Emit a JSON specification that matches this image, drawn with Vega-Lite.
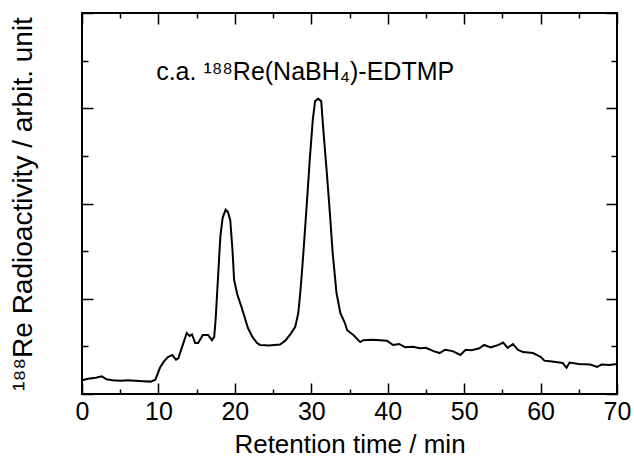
{
  "$schema": "https://vega.github.io/schema/vega-lite/v6.json",
  "width": 535,
  "height": 381,
  "autosize": {"type": "none"},
  "padding": {"left": 82, "top": 13, "right": 17, "bottom": 66},
  "background": "white",
  "config": {
    "view": {"stroke": "black", "strokeWidth": 2},
    "font": "Liberation Sans",
    "axis": {
      "domain": false,
      "grid": false,
      "tickColor": "black",
      "tickWidth": 1.5,
      "labelColor": "black",
      "titleColor": "black",
      "labelFont": "Liberation Sans",
      "titleFont": "Liberation Sans",
      "labelFontSize": 25,
      "titleFontSize": 26,
      "titleFontWeight": "normal"
    }
  },
  "layer": [
    {
      "data": {
        "values": [
          {"t": 0, "v": 0.29}, {"t": 0.8, "v": 0.32}, {"t": 1.8, "v": 0.34}, {"t": 2.6, "v": 0.37},
          {"t": 3.2, "v": 0.31}, {"t": 4.0, "v": 0.29}, {"t": 5.0, "v": 0.28}, {"t": 6.0, "v": 0.29},
          {"t": 7.0, "v": 0.28}, {"t": 8.0, "v": 0.27}, {"t": 9.0, "v": 0.26}, {"t": 9.6, "v": 0.30},
          {"t": 10.2, "v": 0.55}, {"t": 10.7, "v": 0.68}, {"t": 11.2, "v": 0.77}, {"t": 11.8, "v": 0.82},
          {"t": 12.3, "v": 0.72}, {"t": 12.6, "v": 0.75}, {"t": 13.1, "v": 0.99}, {"t": 13.7, "v": 1.28},
          {"t": 14.1, "v": 1.22}, {"t": 14.4, "v": 1.25}, {"t": 14.8, "v": 1.07}, {"t": 15.2, "v": 1.07},
          {"t": 15.8, "v": 1.24}, {"t": 16.5, "v": 1.24}, {"t": 17.0, "v": 1.13}, {"t": 17.3, "v": 1.20},
          {"t": 17.5, "v": 1.60}, {"t": 17.8, "v": 2.46}, {"t": 18.1, "v": 3.30}, {"t": 18.4, "v": 3.70},
          {"t": 18.8, "v": 3.87}, {"t": 19.1, "v": 3.82}, {"t": 19.4, "v": 3.65}, {"t": 19.7, "v": 3.00},
          {"t": 19.9, "v": 2.40}, {"t": 20.3, "v": 2.10}, {"t": 20.9, "v": 1.81}, {"t": 21.3, "v": 1.60},
          {"t": 21.7, "v": 1.39}, {"t": 22.3, "v": 1.20}, {"t": 22.9, "v": 1.07}, {"t": 23.3, "v": 1.03},
          {"t": 24.5, "v": 1.02}, {"t": 25.9, "v": 1.04}, {"t": 26.6, "v": 1.12}, {"t": 27.2, "v": 1.24},
          {"t": 27.9, "v": 1.41}, {"t": 28.3, "v": 1.70}, {"t": 28.6, "v": 2.20}, {"t": 28.9, "v": 2.82},
          {"t": 29.2, "v": 3.50}, {"t": 29.5, "v": 4.20}, {"t": 29.8, "v": 4.92}, {"t": 30.2, "v": 5.76},
          {"t": 30.5, "v": 6.15}, {"t": 30.9, "v": 6.20}, {"t": 31.3, "v": 6.15}, {"t": 31.6, "v": 5.50},
          {"t": 32.0, "v": 4.71}, {"t": 32.4, "v": 3.87}, {"t": 32.8, "v": 2.96}, {"t": 33.3, "v": 2.12},
          {"t": 33.8, "v": 1.70}, {"t": 34.4, "v": 1.49}, {"t": 34.7, "v": 1.34}, {"t": 35.5, "v": 1.24},
          {"t": 36.4, "v": 1.09}, {"t": 36.8, "v": 1.13}, {"t": 38.0, "v": 1.14}, {"t": 39.0, "v": 1.13},
          {"t": 39.9, "v": 1.12}, {"t": 40.7, "v": 1.03}, {"t": 41.5, "v": 1.05}, {"t": 42.3, "v": 0.98},
          {"t": 43.3, "v": 0.99}, {"t": 44.2, "v": 0.96}, {"t": 45.0, "v": 0.97}, {"t": 46.0, "v": 0.90},
          {"t": 46.8, "v": 0.86}, {"t": 47.5, "v": 0.93}, {"t": 48.5, "v": 0.90}, {"t": 49.5, "v": 0.82},
          {"t": 50.2, "v": 0.93}, {"t": 51.0, "v": 0.92}, {"t": 52.0, "v": 0.96}, {"t": 52.6, "v": 1.03},
          {"t": 53.5, "v": 0.98}, {"t": 54.5, "v": 1.03}, {"t": 55.1, "v": 1.08}, {"t": 55.7, "v": 0.97},
          {"t": 56.4, "v": 1.05}, {"t": 57.0, "v": 0.93}, {"t": 57.7, "v": 0.88}, {"t": 59.0, "v": 0.86},
          {"t": 60.0, "v": 0.78}, {"t": 60.5, "v": 0.70}, {"t": 61.5, "v": 0.68}, {"t": 62.9, "v": 0.65},
          {"t": 63.4, "v": 0.55}, {"t": 63.8, "v": 0.66}, {"t": 65.0, "v": 0.63}, {"t": 66.5, "v": 0.62},
          {"t": 67.4, "v": 0.57}, {"t": 68.0, "v": 0.62}, {"t": 69.0, "v": 0.61}, {"t": 70.0, "v": 0.63}
        ]
      },
      "mark": {"type": "line", "color": "black", "strokeWidth": 2},
      "encoding": {
        "x": {
          "field": "t",
          "type": "quantitative",
          "scale": {"domain": [0, 70], "nice": false, "zero": false},
          "axis": {
            "orient": "bottom",
            "values": [0, 5, 10, 15, 20, 25, 30, 35, 40, 45, 50, 55, 60, 65, 70],
            "labelExpr": "datum.value % 10 === 0 ? datum.label : ''",
            "tickSize": {"condition": {"test": "datum.value % 10 === 0", "value": -11}, "value": -5},
            "labelPadding": 16,
            "labelFlush": false,
            "labelOverlap": false,
            "title": "Retention time / min",
            "titlePadding": 1
          }
        },
        "y": {
          "field": "v",
          "type": "quantitative",
          "scale": {"domain": [0, 8], "nice": false},
          "axis": {
            "orient": "left",
            "values": [0, 1, 2, 3, 4, 5, 6, 7, 8],
            "labels": false,
            "tickSize": {"condition": {"test": "datum.value % 2 === 0", "value": -11}, "value": -6},
            "title": "¹⁸⁸Re Radioactivity / arbit. unit",
            "titleFontSize": 28,
            "titlePadding": 44
          }
        }
      }
    },
    {
      "data": {"values": [{"label": "c.a. ¹⁸⁸Re(NaBH₄)-EDTMP"}]},
      "mark": {"type": "text", "fontSize": 25, "align": "center", "baseline": "alphabetic", "color": "black", "font": "Liberation Sans"},
      "encoding": {
        "text": {"field": "label"},
        "x": {
          "datum": 29.2,
          "type": "quantitative",
          "axis": {
            "orient": "top",
            "values": [0, 5, 10, 15, 20, 25, 30, 35, 40, 45, 50, 55, 60, 65, 70],
            "labels": false,
            "title": null,
            "tickSize": {"condition": {"test": "datum.value % 10 === 0", "value": -11}, "value": -5}
          }
        },
        "y": {
          "datum": 6.6,
          "type": "quantitative",
          "axis": {
            "orient": "right",
            "values": [0, 1, 2, 3, 4, 5, 6, 7, 8],
            "labels": false,
            "title": null,
            "tickSize": {"condition": {"test": "datum.value % 2 === 0", "value": -11}, "value": -6}
          }
        }
      }
    }
  ]
}
